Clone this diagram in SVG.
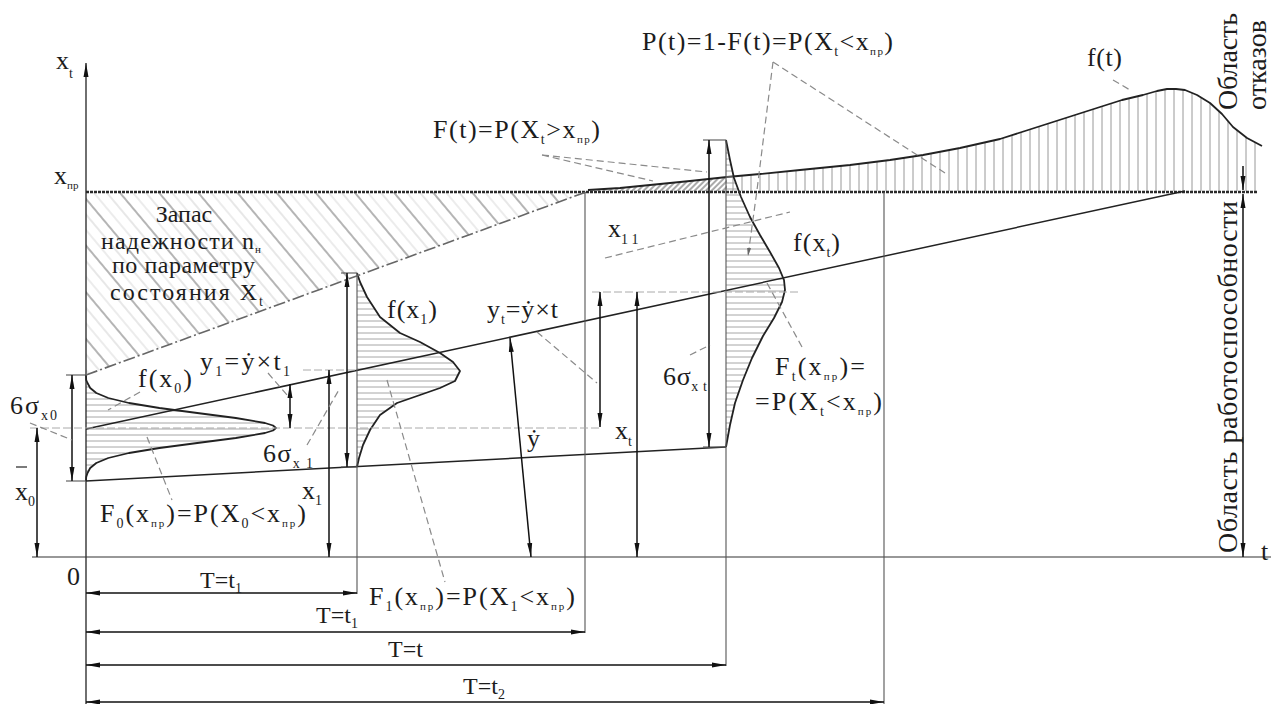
<svg xmlns="http://www.w3.org/2000/svg" width="1271" height="704" viewBox="0 0 1271 704">
<defs>
<style>
text{font-family:"Times New Roman",Liberation Serif,Tinos,"Noto Serif",serif;fill:#1c1c1c}
.t{font-size:26px}
.m{font-size:24px}
.r{font-size:28px}
.sb{font-size:14px}
.sp{font-size:11px}
.ln{stroke:#222;stroke-width:1.5;fill:none}
.ax{stroke:#333;stroke-width:1.2;fill:none}
.ext{stroke:#555;stroke-width:1.1;fill:none}
.lt{stroke:#aaa;stroke-width:1;fill:none;stroke-dasharray:8 3}
.ld{stroke:#8a8a8a;stroke-width:1.2;fill:none;stroke-dasharray:7 4}
.dd{stroke:#666;stroke-width:1.6;fill:none;stroke-dasharray:12 3 2 3}
.dim{stroke:#111;stroke-width:1.5;fill:none;marker-start:url(#ah);marker-end:url(#ah)}
.cv{stroke:#222;stroke-width:1.8;fill:none;stroke-linejoin:round}
</style>
<marker id="ah" viewBox="0 0 14 6" refX="14" refY="3" markerWidth="14" markerHeight="6" markerUnits="userSpaceOnUse" orient="auto-start-reverse"><path d="M0,0.5 L14,3 L0,5.5 z" fill="#111"/></marker>
<marker id="as" viewBox="0 0 8 4" refX="8" refY="2" markerWidth="8" markerHeight="4" markerUnits="userSpaceOnUse" orient="auto"><path d="M0,0 L8,2 L0,4 z" fill="#666"/></marker>
<pattern id="hh" width="10" height="6" patternUnits="userSpaceOnUse"><line x1="0" y1="3" x2="10" y2="3" stroke="#9c9c9c" stroke-width="0.9"/></pattern>
<pattern id="vh" width="9" height="10" patternUnits="userSpaceOnUse"><line x1="4" y1="0" x2="4" y2="10" stroke="#8c8c8c" stroke-width="0.9"/></pattern>
<pattern id="dh" width="30" height="30" patternUnits="userSpaceOnUse" patternTransform="rotate(50)"><line x1="0" y1="2" x2="30" y2="2" stroke="#777" stroke-width="1.1"/><line x1="0" y1="12" x2="30" y2="12" stroke="#c4c4c4" stroke-width="0.8"/><line x1="0" y1="22" x2="30" y2="22" stroke="#cfcfcf" stroke-width="0.8"/></pattern>
<pattern id="fh" width="4" height="10" patternUnits="userSpaceOnUse" patternTransform="rotate(45)"><line x1="2" y1="0" x2="2" y2="10" stroke="#555" stroke-width="1"/></pattern>
</defs>
<rect width="1271" height="704" fill="#fff"/>

<g id="zapas">
<polygon points="86,192 586,192 86,375" fill="url(#dh)"/>
</g>

<g id="ft-curve">
<polygon points="727,191 727,177 760,174 800,170 850,165 890,160 923,155 960,148 1000,139 1025,131 1050,123 1075,115 1100,107 1122,100 1143,95 1157,91 1167,89 1176,89 1185,90 1197,95 1210,103 1222,114 1233,127 1247,138 1262,146 1262,191" fill="url(#vh)"/>
<polygon points="588,191 620,188 650,185 690,181 727,177 727,191" fill="url(#fh)"/>
<polyline class="cv" points="588,190 620,188 650,185 690,181 727,177 760,174 800,170 850,165 890,160 923,155 960,148 1000,139 1025,131 1050,123 1075,115 1100,107 1122,100 1143,95 1157,91 1167,89 1176,89 1185,90 1197,95 1210,103 1222,114 1233,127 1247,138 1262,146"/>
</g>

<g id="dist-x0">
<polygon points="86,375 86.2,380 87.5,383 90.2,388 96.3,393 108.3,398 129,403 159.4,408 197.3,413 235.8,418 265,423 273,425.5 276,428 273,430.5 265,433 235.8,438 197.3,443 159.4,448 129,453 108.3,458 96.3,463 90.2,468 87.5,473 86.2,477 86,481" fill="url(#hh)"/>
<polyline class="cv" points="86,375 86.2,380 87.5,383 90.2,388 96.3,393 108.3,398 129,403 159.4,408 197.3,413 235.8,418 265,423 273,425.5 276,428 273,430.5 265,433 235.8,438 197.3,443 159.4,448 129,453 108.3,458 96.3,463 90.2,468 87.5,473 86.2,477 86,481"/>
</g>

<g id="dist-x1">
<polygon points="357,273 360,282 367,297 380,317 400,333 420,342 440,353 453,362 460,371 455,381 440,388 420,395 397,403 380,415 370,430 363,445 359,458 357,467" fill="url(#hh)"/>
<polyline class="cv" points="357,273 360,282 367,297 380,317 400,333 420,342 440,353 453,362 460,371 455,381 440,388 420,395 397,403 380,415 370,430 363,445 359,458 357,467"/>
</g>

<g id="dist-xt">
<polygon points="726,140 730,160 734,178 741,197 750,217 760,235 770,252 779,268 784,280 785,290 782,302 774,318 763,336 752,358 743,380 735,403 730,425 726,447" fill="url(#hh)"/>
<polyline class="cv" points="726,140 730,160 734,178 741,197 750,217 760,235 770,252 779,268 784,280 785,290 782,302 774,318 763,336 752,358 743,380 735,403 730,425 726,447"/>
</g>

<g id="axes">
<line x1="86" y1="704" x2="86" y2="63" stroke="#222" stroke-width="1.3" marker-end="url(#ah)"/>
<line class="ax" x1="32" y1="557" x2="1271" y2="557"/>
<line x1="86" y1="192" x2="1257" y2="192" stroke="#2a2a2a" stroke-width="2.4" stroke-dasharray="3 1"/>
<line class="ln" x1="86" y1="429" x2="1185" y2="191"/>
<line class="ln" x1="86" y1="481" x2="726" y2="447"/>
<line class="dd" x1="86" y1="375" x2="586" y2="192"/>
<line class="ext" x1="357" y1="273" x2="357" y2="594"/>
<line class="ext" x1="726" y1="140" x2="726" y2="666"/>
<line class="ext" x1="585" y1="192" x2="585" y2="633"/>
<line class="ext" x1="884" y1="192" x2="884" y2="704"/>
<line class="ext" x1="66" y1="375" x2="86" y2="375"/>
<line class="ext" x1="66" y1="481" x2="86" y2="481"/>
<line class="ext" x1="341" y1="273" x2="357" y2="273"/>
<line class="ext" x1="341" y1="467" x2="357" y2="467"/>
<line class="ext" x1="703" y1="140" x2="726" y2="140"/>
<line class="ext" x1="703" y1="447" x2="726" y2="447"/>
<line class="lt" x1="30" y1="428" x2="600" y2="428"/>
<line class="lt" x1="303" y1="370" x2="357" y2="370"/>
<line class="lt" x1="592" y1="292" x2="800" y2="292"/>
</g>

<g id="connectors">
<line class="dim" x1="37" y1="428" x2="37" y2="557"/>
<line class="dim" x1="72" y1="375" x2="72" y2="481"/>
<line class="dim" x1="290" y1="384" x2="290" y2="428"/>
<line class="dim" x1="329" y1="370" x2="329" y2="557"/>
<line class="dim" x1="347" y1="273" x2="347" y2="467"/>
<line class="dim" x1="510" y1="338" x2="531" y2="557"/>
<line class="dim" x1="600" y1="292" x2="600" y2="427"/>
<line class="dim" x1="637" y1="292" x2="637" y2="557"/>
<line class="dim" x1="709" y1="140" x2="709" y2="447"/>
<line x1="1243" y1="166" x2="1243" y2="190" stroke="#111" stroke-width="1.5" marker-end="url(#ah)"/>
<line class="dim" x1="1243" y1="194" x2="1243" y2="557"/>
<line class="dim" x1="86" y1="593" x2="357" y2="593"/>
<line class="dim" x1="86" y1="632" x2="585" y2="632"/>
<line class="dim" x1="86" y1="665" x2="726" y2="665"/>
<line class="dim" x1="86" y1="702" x2="884" y2="702"/>
<line class="ld" x1="30" y1="423" x2="72" y2="440"/>
<line class="ld" x1="140" y1="392" x2="108" y2="410"/>
<line class="ld" x1="268" y1="373" x2="287" y2="395"/>
<line class="ld" x1="147" y1="437" x2="172" y2="500"/>
<line class="ld" x1="307" y1="445" x2="340" y2="388"/>
<line class="ld" x1="387" y1="380" x2="445" y2="582"/>
<line class="ld" x1="537" y1="332" x2="597" y2="383"/>
<line class="ld" x1="605" y1="258" x2="790" y2="212"/>
<line class="ld" x1="690" y1="355" x2="710" y2="345"/>
<line class="ld" x1="767" y1="283" x2="802" y2="347"/>
<line class="ld" x1="542" y1="155" x2="707" y2="172"/>
<line class="ld" x1="542" y1="155" x2="653" y2="181"/>
<polyline class="ld" points="773,62 757,190 748,256" marker-end="url(#as)"/>
<line class="ld" x1="773" y1="62" x2="945" y2="173"/>
<line class="ld" x1="1113" y1="80" x2="1130" y2="90"/>
</g>

<g id="labels">
<text class="t" x="56" y="69">x<tspan class="sb" dy="9">t</tspan></text>
<text class="t" x="54" y="184">x<tspan class="sp" dy="5">пр</tspan></text>
<text class="m" x="184" y="222" text-anchor="middle">Запас</text>
<text class="m" x="101" y="249" textLength="160">надежности n<tspan class="sp" dy="4">н</tspan></text>
<text class="m" x="112" y="273" textLength="143">по параметру</text>
<text class="m" x="110" y="300" textLength="153">состояния X<tspan class="sb" dy="6">t</tspan></text>
<text class="t" x="138" y="387" textLength="54">f(x<tspan class="sb" dy="6">0</tspan><tspan dy="-6">)</tspan></text>
<text class="t" x="200" y="370" textLength="90">y<tspan class="sb" dy="6">1</tspan><tspan dy="-6">=ẏ×t</tspan><tspan class="sb" dy="6">1</tspan></text>
<text class="t" x="10" y="414" textLength="47">6σ<tspan class="sb" dy="6">x0</tspan></text>
<line x1="16" y1="467" x2="27" y2="467" stroke="#333" stroke-width="1.3"/>
<text class="t" x="15" y="500">x<tspan class="sb" dy="6">0</tspan></text>
<text class="t" x="100" y="522" textLength="206">F<tspan class="sb" dy="6">0</tspan><tspan dy="-6">(x</tspan><tspan class="sp" dy="5">пр</tspan><tspan dy="-5">)=P(X</tspan><tspan class="sb" dy="6">0</tspan><tspan dy="-6">&lt;x</tspan><tspan class="sp" dy="5">пр</tspan><tspan dy="-5">)</tspan></text>
<text class="t" x="302" y="499">x<tspan class="sb" dy="6">1</tspan></text>
<text class="t" x="263" y="462" textLength="50">6σ<tspan class="sb" dy="6">x 1</tspan></text>
<text class="t" x="387" y="318" textLength="50">f(x<tspan class="sb" dy="6">1</tspan><tspan dy="-6">)</tspan></text>
<text class="t" x="487" y="318" textLength="71">y<tspan class="sb" dy="6">t</tspan><tspan dy="-6">=ẏ×t</tspan></text>
<text class="t" x="527" y="447">ẏ</text>
<text class="t" x="369" y="605" textLength="206">F<tspan class="sb" dy="6">1</tspan><tspan dy="-6">(x</tspan><tspan class="sp" dy="5">пр</tspan><tspan dy="-5">)=P(X</tspan><tspan class="sb" dy="6">1</tspan><tspan dy="-6">&lt;x</tspan><tspan class="sp" dy="5">пр</tspan><tspan dy="-5">)</tspan></text>
<text class="m" x="200" y="588">T=t<tspan class="sb" dy="5">1</tspan></text>
<text class="m" x="316" y="623">T=t<tspan class="sb" dy="5">1</tspan></text>
<text class="m" x="388" y="657">T=t</text>
<text class="m" x="463" y="694">T=t<tspan class="sb" dy="5">2</tspan></text>
<text class="t" x="67" y="585">0</text>
<text class="t" x="608" y="237">x<tspan class="sb" dy="7">1 1</tspan></text>
<text class="t" x="615" y="439">x<tspan class="sb" dy="7">t</tspan></text>
<text class="t" x="663" y="385" textLength="44">6σ<tspan class="sb" dy="6">x t</tspan></text>
<text class="t" x="793" y="251" textLength="47">f(x<tspan class="sb" dy="6">t</tspan><tspan dy="-6">)</tspan></text>
<text class="t" x="775" y="375" textLength="90">F<tspan class="sb" dy="6">t</tspan><tspan dy="-6">(x</tspan><tspan class="sp" dy="5">пр</tspan><tspan dy="-5">)=</tspan></text>
<text class="t" x="755" y="410" textLength="127">=P(X<tspan class="sb" dy="6">t</tspan><tspan dy="-6">&lt;x</tspan><tspan class="sp" dy="5">пр</tspan><tspan dy="-5">)</tspan></text>
<text class="t" x="433" y="138" textLength="167">F(t)=P(X<tspan class="sb" dy="6">t</tspan><tspan dy="-6">&gt;x</tspan><tspan class="sp" dy="5">пр</tspan><tspan dy="-5">)</tspan></text>
<text class="t" x="642" y="50" textLength="251">P(t)=1-F(t)=P(X<tspan class="sb" dy="6">t</tspan><tspan dy="-6">&lt;x</tspan><tspan class="sp" dy="5">пр</tspan><tspan dy="-5">)</tspan></text>
<text class="t" x="1087" y="66" textLength="35">f(t)</text>
<text class="r" transform="translate(1237,110) rotate(-90)" textLength="97">Область</text>
<text class="r" transform="translate(1266,110) rotate(-90)" textLength="90">отказов</text>
<text class="r" transform="translate(1237,553) rotate(-90)" textLength="352">Область работоспособности</text>
<text class="t" x="1261" y="560">t</text>
</g>
</svg>
